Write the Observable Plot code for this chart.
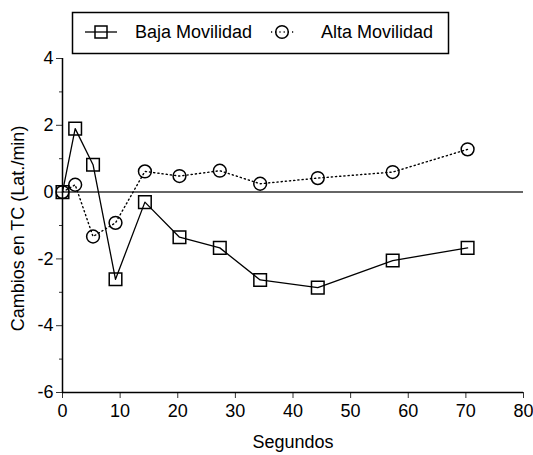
<!DOCTYPE html>
<html>
<head>
<meta charset="utf-8">
<script src="https://cdn.jsdelivr.net/npm/d3@7"></script>
<script src="https://cdn.jsdelivr.net/npm/@observablehq/plot@0.6"></script>
<style>
  html, body { margin: 0; padding: 0; background: #fff; }
  #wrap { position: relative; width: 533px; height: 455px; font-family: "Liberation Sans", Arial, sans-serif; }
  #legend { position: absolute; left: 0; top: 0; }
</style>
</head>
<body>
<div id="wrap"></div>
<script>
const seconds = [0, 2.2, 5.3, 9.2, 14.3, 20.3, 27.3, 34.3, 44.3, 57.3, 70.3];
const baja = [0, 1.9, 0.82, -2.61, -0.3, -1.35, -1.67, -2.63, -2.86, -2.05, -1.67];
const alta = [0, 0.22, -1.33, -0.92, 0.62, 0.48, 0.64, 0.25, 0.42, 0.6, 1.28];
const seriesNames = ["Baja Movilidad", "Alta Movilidad"];
const xTicks = [0, 10, 20, 30, 40, 50, 60, 70, 80];
const yTicks = [-6, -4, -2, 0, 2, 4];
const yMinor = [-5, -3, -1, 1, 3];
const xLabel = "Segundos";
const yLabel = "Cambios en TC (Lat./min)";

const bajaData = seconds.map((s, i) => ({x: s, y: baja[i]}));
const altaData = seconds.map((s, i) => ({x: s, y: alta[i]}));

const chart = Plot.plot({
  width: 533,
  height: 455,
  marginLeft: 62,
  marginRight: 10,
  marginTop: 58,
  marginBottom: 63,
  style: {fontFamily: "'Liberation Sans', Arial, sans-serif", fontSize: "18px", color: "#000", background: "#fff"},
  x: {domain: [0, 80]},
  y: {domain: [-6, 4]},
  marks: [
    Plot.axisX({ticks: xTicks, tickSize: 6, tickPadding: 6, tickFormat: d => String(d), label: null, stroke: "#333"}),
    Plot.axisY({ticks: yTicks, tickSize: 6, tickPadding: 3, tickFormat: d => String(d), label: null, stroke: "#333"}),
    Plot.axisY({ticks: yMinor, tickSize: 3, text: null, label: null, stroke: "#333"}),
    Plot.ruleX([0], {y1: -6, y2: 4, stroke: "#000", strokeWidth: 1.5}),
    Plot.ruleY([-6], {x1: 0, x2: 80, stroke: "#000", strokeWidth: 1.5}),
    Plot.ruleY([0], {x1: 0, x2: 80, stroke: "#333", strokeWidth: 1.5}),
    Plot.line(altaData, {x: "x", y: "y", stroke: "#000", strokeWidth: 1.4, strokeDasharray: "1.2,3"}),
    Plot.line(bajaData, {x: "x", y: "y", stroke: "#000", strokeWidth: 1.3}),
    Plot.dot(bajaData, {x: "x", y: "y", symbol: "square", r: 7.1, stroke: "#000", strokeWidth: 1.5, fill: "none"}),
    Plot.dot(altaData, {x: "x", y: "y", symbol: "circle", r: 6.4, stroke: "#000", strokeWidth: 1.5, fill: "none"}),
    Plot.text([xLabel], {frameAnchor: "bottom", dy: 50, lineAnchor: "middle", fill: "#000"}),
    Plot.text([yLabel], {frameAnchor: "left", dx: -44, dy: 3, rotate: -90, textAnchor: "middle", lineAnchor: "middle", fill: "#000"})
  ]
});
document.getElementById("wrap").appendChild(chart);

// Legend overlay
const ns = "http://www.w3.org/2000/svg";
const leg = document.createElementNS(ns, "svg");
leg.setAttribute("id", "legend");
leg.setAttribute("width", 533);
leg.setAttribute("height", 60);
leg.innerHTML = `
  <rect x="72.5" y="12.5" width="376" height="41" fill="#fff" stroke="#000" stroke-width="1.5"/>
  <line x1="85" y1="32" x2="117" y2="32" stroke="#000" stroke-width="1.3"/>
  <rect x="95" y="26" width="12" height="12" fill="none" stroke="#000" stroke-width="1.5"/>
  <text x="135" y="38" font-family="'Liberation Sans', Arial, sans-serif" font-size="18" fill="#000">${seriesNames[0]}</text>
  <line x1="271" y1="32" x2="296" y2="32" stroke="#000" stroke-width="1.4" stroke-dasharray="1.2,3"/>
  <circle cx="282" cy="32" r="6.3" fill="none" stroke="#000" stroke-width="1.5"/>
  <text x="321" y="38" font-family="'Liberation Sans', Arial, sans-serif" font-size="18" fill="#000">${seriesNames[1]}</text>
`;
document.getElementById("wrap").appendChild(leg);
</script>
</body>
</html>
